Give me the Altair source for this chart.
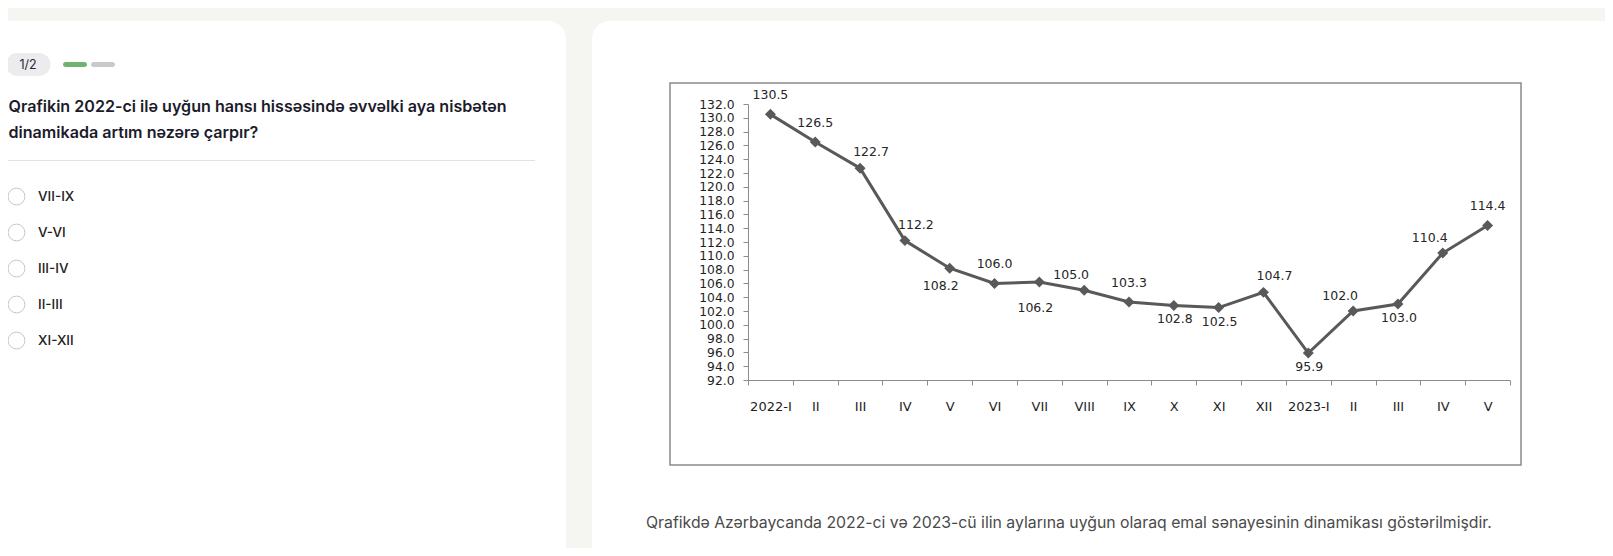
import altair as alt
import pandas as pd

# ---------------- data ----------------
months = ["2022-I", "II", "III", "IV", "V", "VI", "VII", "VIII", "IX", "X", "XI", "XII",
          "2023-I", "II", "III", "IV", "V"]
values = [130.5, 126.5, 122.7, 112.2, 108.2, 106.0, 106.2, 105.0, 103.3, 102.8, 102.5, 104.7,
          95.9, 102.0, 103.0, 110.4, 114.4]
label_side = ["above", "above", "above-right", "above-right", "below-left", "above", "below-far",
              "above-left", "above", "below", "below", "above-right", "below", "above-left",
              "below", "above-left", "above"]
y_ticks = [92.0, 94.0, 96.0, 98.0, 100.0, 102.0, 104.0, 106.0, 108.0, 110.0, 112.0, 114.0,
           116.0, 118.0, 120.0, 122.0, 124.0, 126.0, 128.0, 130.0, 132.0]

progress_text = "1/2"
question_lines = ["Qrafikin 2022-ci ilə uyğun hansı hissəsində əvvəlki aya nisbətən",
                  "dinamikada artım nəzərə çarpır?"]
options = ["VII-IX", "V-VI", "III-IV", "II-III", "XI-XII"]
caption = ("Qrafikdə Azərbaycanda 2022-ci və 2023-cü ilin aylarına uyğun olaraq emal "
           "sənayesinin dinamikası göstərilmişdir.")

# ---------------- style ----------------
W, H = 1597, 540
PAGE_BG = "#f5f5f1"
UI_FONT = "Inter"
CH_FONT = "DejaVu Sans"
LINE_C = "#595959"
AX_C = "#8c8c8c"

offsets = {
    "above": (0, -19),
    "above-right": (11, -16),
    "above-left": (-13, -15),
    "below": (1, 14),
    "below-far": (-4, 26),
    "below-left": (-9, 18),
}

one = alt.Chart(pd.DataFrame({"k": [0]}))

# ---------------- page decorations ----------------
left_card = one.mark_rect(fill="white", cornerRadius=18).encode(
    x=alt.value(-40), x2=alt.value(558), y=alt.value(13), y2=alt.value(620))
right_card = one.mark_rect(fill="white", cornerRadius=18).encode(
    x=alt.value(584), x2=alt.value(1660), y=alt.value(13), y2=alt.value(620))

pill = one.mark_rect(fill="#ececef", cornerRadius=11.5).encode(
    x=alt.value(-2), x2=alt.value(42.5), y=alt.value(45), y2=alt.value(68))
pill_text = alt.Chart(pd.DataFrame({"t": [progress_text]})).mark_text(
    font=UI_FONT, fontSize=12.5, color="#2a2a35", align="center", baseline="middle"
).encode(x=alt.value(20), y=alt.value(56.8), text="t:N")
bar_green = one.mark_rect(fill="#6fb46e", cornerRadius=2.5).encode(
    x=alt.value(55), x2=alt.value(79), y=alt.value(54), y2=alt.value(59))
bar_gray = one.mark_rect(fill="#c9c9cd", cornerRadius=2.5).encode(
    x=alt.value(83), x2=alt.value(107), y=alt.value(54), y2=alt.value(59))

question = alt.Chart(pd.DataFrame({"t": ["\n".join(question_lines)]})).mark_text(
    font=UI_FONT, fontSize=16.1, fontWeight=600, color="#1b1b2b", align="left",
    baseline="alphabetic", lineBreak="\n", lineHeight=25.7
).encode(x=alt.value(0.5), y=alt.value(104), text="t:N")

separator = one.mark_rule(stroke="#e2e2e2", strokeWidth=1).encode(
    x=alt.value(-2), x2=alt.value(527), y=alt.value(152.5))

opt_df = pd.DataFrame({"opt": options, "i": list(range(len(options)))})
opt_y = alt.Y("i:Q", scale=alt.Scale(domain=[0, len(options) - 1], range=[188.5, 332.5],
                                     nice=False, zero=False), axis=None)
opt_circles = alt.Chart(opt_df).mark_point(
    shape="circle", size=283, filled=True, fill="white", stroke="#c6c6c6", strokeWidth=1,
    opacity=1
).encode(x=alt.value(8.5), y=opt_y)
opt_text = alt.Chart(opt_df).mark_text(
    font=UI_FONT, fontSize=13.5, fontWeight=500, color="#222222", align="left",
    baseline="middle"
).encode(x=alt.value(30), y=opt_y, text="opt:N")
options_group = alt.layer(opt_circles, opt_text)

caption_text = alt.Chart(pd.DataFrame({"t": [caption]})).mark_text(
    font=UI_FONT, fontSize=15.8, color="#4a4a4a", align="left", baseline="middle"
).encode(x=alt.value(638), y=alt.value(514.5), text="t:N")

frame = one.mark_rect(fill="white", stroke="#8a8a8a", strokeWidth=1.5).encode(
    x=alt.value(662), x2=alt.value(1513), y=alt.value(75), y2=alt.value(457))

# ---------------- data chart ----------------
df = pd.DataFrame({"idx": list(range(len(months))), "month": months, "value": values,
                   "side": label_side})
df["lbl"] = df["value"].map(lambda v: f"{v:.1f}")

label_expr = "[" + ",".join("'" + m + "'" for m in months) + "][datum.value]"

x_enc = alt.X("idx:O", bandPosition=0.5,
              scale=alt.Scale(type="band", range=[740, 1502], paddingInner=0, paddingOuter=0),
              axis=alt.Axis(title=None, labelExpr=label_expr, labelAngle=0, tickBand="extent",
                            domainColor=AX_C, tickColor=AX_C, tickSize=5, labelPadding=15,
                            labelFont=CH_FONT, labelFontSize=13, labelColor="#1e1e1e",
                            grid=False, offset=-168, zindex=2))
y_enc = alt.Y("value:Q",
              scale=alt.Scale(domain=[92, 132], range=[372, 96], nice=False, zero=False),
              axis=alt.Axis(title=None, values=y_ticks, format=".1f", tickSize=5,
                            labelPadding=9, domainColor=AX_C, tickColor=AX_C, grid=False,
                            labelFont=CH_FONT, labelFontSize=12.3, labelColor="#1e1e1e",
                            labelOverlap=False, offset=-740, zindex=2))

base = alt.Chart(df)
line = base.mark_line(color=LINE_C, strokeWidth=3).encode(x=x_enc, y=y_enc)
pts = base.mark_point(shape="diamond", size=120, filled=True, color=LINE_C, opacity=1).encode(
    x=x_enc, y=y_enc)

label_layers = []
for side, (dx, dy) in offsets.items():
    label_layers.append(
        base.transform_filter(alt.datum.side == side).mark_text(
            font=CH_FONT, fontSize=12.5, color="#262626", align="center", baseline="middle",
            dx=dx, dy=dy
        ).encode(x=x_enc, y=y_enc, text="lbl:N")
    )

data_group = alt.layer(line, pts, *label_layers)

chart = alt.layer(
    left_card, right_card, pill, pill_text, bar_green, bar_gray, question, separator,
    options_group, caption_text, frame, data_group
).resolve_scale(y="independent").properties(
    width=W, height=H, background=PAGE_BG, padding=0,
    autosize=alt.AutoSizeParams(type="none")
).configure_view(stroke="transparent")

chart.save("out.html", embed_options={"renderer": "svg", "actions": False})
